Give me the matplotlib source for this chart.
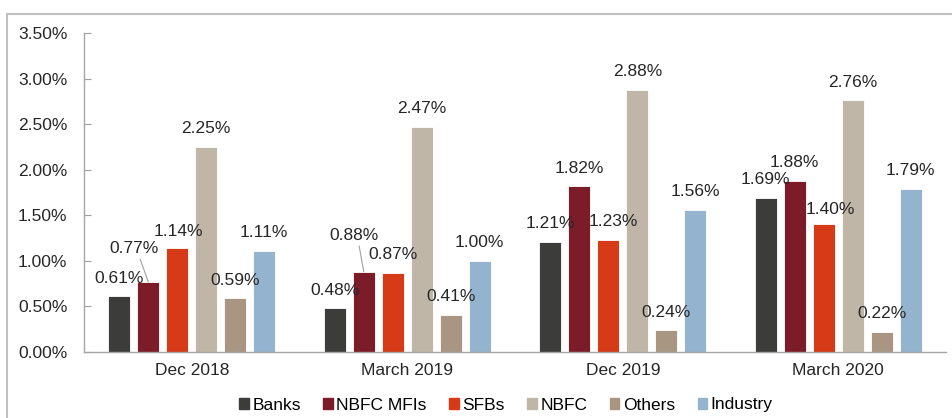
import matplotlib
matplotlib.use("Agg")
import matplotlib.pyplot as plt
from matplotlib.lines import Line2D
from matplotlib.patches import Patch
import numpy as np

plt.rcParams['font.family'] = ['Liberation Sans', 'DejaVu Sans']

periods = ["Dec 2018", "March 2019", "Dec 2019", "March 2020"]
series_names = ["Banks", "NBFC MFIs", "SFBs", "NBFC", "Others", "Industry"]

banks = [0.61, 0.48, 1.21, 1.69]
nbfc_mfis = [0.77, 0.88, 1.82, 1.88]
sfbs = [1.14, 0.87, 1.23, 1.40]
nbfc = [2.25, 2.47, 2.88, 2.76]
others = [0.59, 0.41, 0.24, 0.22]
industry = [1.11, 1.00, 1.56, 1.79]

yticks = [0, 0.5, 1.0, 1.5, 2.0, 2.5, 3.0, 3.5]

colors = ["#3c3c3a", "#7b1c28", "#d63a16", "#bfb6a8", "#a89683", "#94b3cf"]

# label tweaks (pixel offsets from bar top), default is (0, 18)
label_shift = {(1, 0): (-14, 33), (2, 0): (1, 17), (1, 1): (-10, 36),
               (2, 2): (5, 18), (2, 3): (7, 15)}
leader = [(1, 0), (1, 1)]


def main():
    all_series = [banks, nbfc_mfis, sfbs, nbfc, others, industry]
    fig = plt.figure(figsize=(9.53, 4.18), dpi=100)
    ax = fig.add_axes([84 / 953, 1 - 352 / 418, 862 / 953, 319 / 418])

    x = np.arange(len(periods))
    pitch = 0.1346
    width = 0.102
    for i, (vals, c) in enumerate(zip(all_series, colors)):
        pos = x + (i - 2.5) * pitch
        ax.bar(pos, vals, width=width, color=c, edgecolor="white", linewidth=0.6)
        for j, v in enumerate(vals):
            dx, dy = label_shift.get((i, j), (0, 18))
            props = None
            if (i, j) in leader:
                props = dict(arrowstyle="-", color="#a0a0a0", lw=0.8,
                             shrinkA=0, shrinkB=0, relpos=(0.6, 0.0))
            ax.annotate("%.2f%%" % v, xy=(pos[j], v), xytext=(dx, dy),
                        textcoords="offset pixels", ha="center", va="center",
                        fontsize=12.5, color="#262626", arrowprops=props)

    ax.set_xlim(-0.5, 3.5)
    ax.set_ylim(0, 3.5)
    ax.set_yticks(yticks)
    ax.set_yticklabels(["%.2f%%" % t for t in yticks])
    ax.set_xticks(x)
    ax.set_xticklabels(periods)
    ax.tick_params(axis="x", length=0, labelsize=12.5, colors="#262626", pad=8)
    ax.tick_params(axis="y", direction="in", length=5, color="#a0a0a0",
                   labelsize=12.5, labelcolor="#262626", pad=12)
    for s in ["top", "right"]:
        ax.spines[s].set_visible(False)
    for s in ["left", "bottom"]:
        ax.spines[s].set_color("#a6a6a6")
        ax.spines[s].set_linewidth(1.0)

    handles = [Patch(color=c) for c in colors]
    fig.legend(handles, series_names, loc="center", bbox_to_anchor=(506 / 953, 1 - 405 / 418),
               ncol=6, frameon=False, fontsize=12.5, handlelength=0.55, handleheight=0.55,
               handletextpad=0.2, columnspacing=1.3)

    # outer chart border (only left and top visible in the crop)
    bx, by = 7.5 / 953, 1 - 13.5 / 418
    fig.add_artist(Line2D([bx, bx], [0, by], color="#c0c0c0", lw=1.5))
    fig.add_artist(Line2D([bx, 1], [by, by], color="#c0c0c0", lw=1.5))

    fig.savefig("out.png", dpi=100)


if __name__ == '__main__':
    main()
